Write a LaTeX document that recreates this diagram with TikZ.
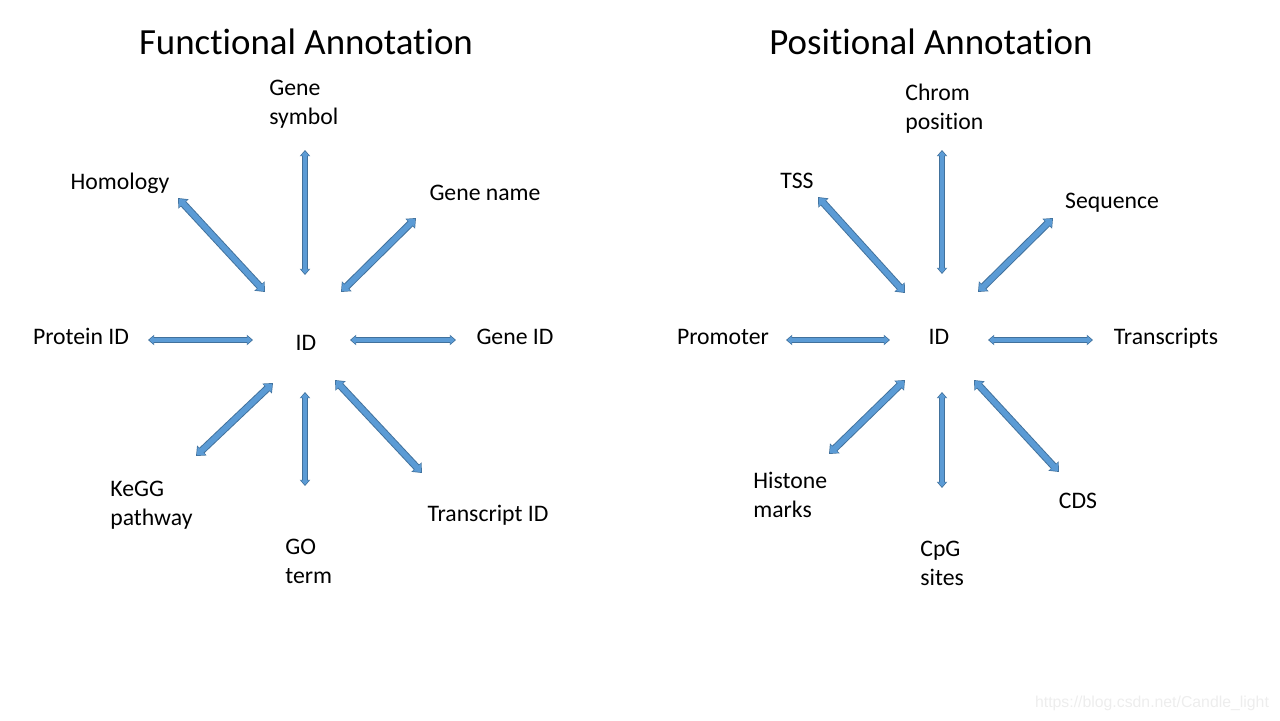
\documentclass[tikz,border=0pt]{standalone}
\usepackage{fontspec}
\usepackage{xcolor}
\setmainfont{Carlito}[Ligatures=NoCommon]
\newfontfamily\markfont{Liberation Sans}
\usetikzlibrary{arrows.meta}

\definecolor{arrowfill}{HTML}{5B9BD5}
\definecolor{arrowline}{HTML}{41719C}

\tikzset{
    lbl/.style={inner sep=0pt, anchor=base, font=\fontsize{13.5}{16.4}\selectfont},
    mlbl/.style={lbl, anchor=north west, align=left},
    ttl/.style={inner sep=0pt, font=\fontsize{21}{25}\selectfont},
    biarrow/.style={line width=#1-1.1pt, draw=arrowfill, shorten <=0.7pt, shorten >=0.7pt,
        {Triangle[width=0.5pt 1.8,length=0.2pt 1.1]}-{Triangle[width=0.5pt 1.8,length=0.2pt 1.1]},
        preaction={draw=arrowline, line width=#1, shorten <=0pt, shorten >=0pt,
            {Triangle[width=0pt 1.8,length=0pt 1.1]}-{Triangle[width=0pt 1.8,length=0pt 1.1]}}},
    biarrow/.default=4.2pt
}

\begin{document}
\begin{tikzpicture}[x=0.02cm,y=-0.02cm]
    \useasboundingbox (0,0) rectangle (1280,720);

    \node[ttl] (ftitle) at (306, 42) {Functional Annotation};
    \node[ttl] (ptitle) at (931, 42) {Positional Annotation};

    \node[lbl] (fid) at (306, 350) {ID};
    \node[mlbl] (fsym) at (269, 80) {Gene\\symbol};
    \node[lbl] (fhom) at (120, 189) {Homology};
    \node[lbl] (fnam) at (485, 200) {Gene name};
    \node[lbl] (fpro) at (81, 344) {Protein ID};
    \node[lbl] (fgid) at (515, 344) {Gene ID};
    \node[mlbl] (fkeg) at (110, 481) {KeGG\\pathway};
    \node[mlbl] (fgo) at (285, 539) {GO\\term};
    \node[lbl] (ftra) at (488, 521) {Transcript ID};

    \node[lbl] (pid) at (939, 344) {ID};
    \node[mlbl] (pchr) at (905, 84) {Chrom\\position};
    \node[lbl] (ptss) at (797, 188) {TSS};
    \node[lbl] (pseq) at (1112, 208) {Sequence};
    \node[lbl] (ppro) at (723, 344) {Promoter};
    \node[lbl] (ptrs) at (1166, 344) {Transcripts};
    \node[mlbl] (phis) at (753, 472) {Histone\\marks};
    \node[mlbl] (pcpg) at (920, 541) {CpG\\sites};
    \node[lbl] (pcds) at (1078, 508) {CDS};

    \coordinate (fsym-a) at (305, 150);  \coordinate (fsym-b) at (305, 275);
    \coordinate (fhom-a) at (178, 198);  \coordinate (fhom-b) at (265, 292);
    \coordinate (fnam-a) at (416, 218);  \coordinate (fnam-b) at (341, 292);
    \coordinate (fpro-a) at (148, 340);  \coordinate (fpro-b) at (253, 340);
    \coordinate (fgid-a) at (350, 340);  \coordinate (fgid-b) at (456, 340);
    \coordinate (fkeg-a) at (273, 383);  \coordinate (fkeg-b) at (196, 456);
    \coordinate (fgo-a) at (305, 392);   \coordinate (fgo-b) at (305, 486);
    \coordinate (ftra-a) at (335, 380);  \coordinate (ftra-b) at (422, 473);

    \coordinate (pchr-a) at (942, 150);  \coordinate (pchr-b) at (942, 274);
    \coordinate (ptss-a) at (818, 197);  \coordinate (ptss-b) at (905, 293);
    \coordinate (pseq-a) at (1053, 218); \coordinate (pseq-b) at (978, 292);
    \coordinate (ppro-a) at (786, 340);  \coordinate (ppro-b) at (890, 340);
    \coordinate (ptrs-a) at (988, 340);  \coordinate (ptrs-b) at (1093, 340);
    \coordinate (phis-a) at (905, 380);  \coordinate (phis-b) at (829, 454);
    \coordinate (pcpg-a) at (942, 392);  \coordinate (pcpg-b) at (942, 488);
    \coordinate (pcds-a) at (974, 380);  \coordinate (pcds-b) at (1059, 472);

    \draw[biarrow=3.2pt] (fsym-a) -- (fsym-b);
    \draw[biarrow] (fhom-a) -- (fhom-b);
    \draw[biarrow] (fnam-a) -- (fnam-b);
    \draw[biarrow=3.2pt] (fpro-a) -- (fpro-b);
    \draw[biarrow=3.2pt] (fgid-a) -- (fgid-b);
    \draw[biarrow] (fkeg-a) -- (fkeg-b);
    \draw[biarrow=3.2pt] (fgo-a) -- (fgo-b);
    \draw[biarrow] (ftra-a) -- (ftra-b);

    \draw[biarrow=3.2pt] (pchr-a) -- (pchr-b);
    \draw[biarrow] (ptss-a) -- (ptss-b);
    \draw[biarrow] (pseq-a) -- (pseq-b);
    \draw[biarrow=3.2pt] (ppro-a) -- (ppro-b);
    \draw[biarrow=3.2pt] (ptrs-a) -- (ptrs-b);
    \draw[biarrow] (phis-a) -- (phis-b);
    \draw[biarrow=3.2pt] (pcpg-a) -- (pcpg-b);
    \draw[biarrow] (pcds-a) -- (pcds-b);

    \node[inner sep=0pt, font=\markfont\fontsize{9}{11}\selectfont, text=black!7] (mark) at (1152, 703) {https://blog.csdn.net/Candle\_light};
\end{tikzpicture}
\end{document}
